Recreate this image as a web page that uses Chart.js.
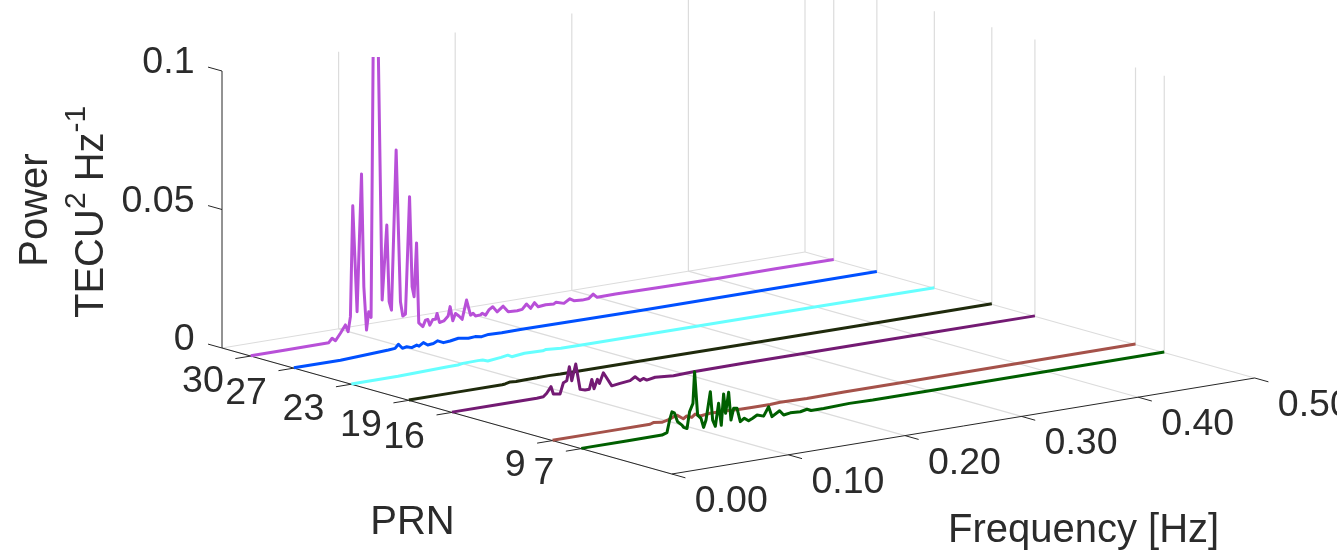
<!DOCTYPE html>
<html>
<head>
<meta charset="utf-8">
<title>Power spectra per PRN</title>
<script src="https://cdn.jsdelivr.net/npm/chart.js@4"></script>
<style>
  html, body { margin: 0; padding: 0; background: #fff; overflow: hidden; }
  canvas { display: block; }
</style>
</head>
<body>
<canvas id="waterfall" width="1337" height="555"></canvas>
<script>
// Tick labels and axis values
const freqTicks = [0, 0.1, 0.2, 0.3, 0.4, 0.5];
const prnTicks = [30, 27, 23, 19, 16, 9, 7];
const powerTicks = [0, 0.05, 0.1];
const prnLimits = [0.7, 32];
const powerTop = 0.1;

// Spectra, frequency in Hz and power in TECU^2/Hz
const freq30 = [0, 0.03, 0.0669, 0.0698, 0.0727, 0.0769, 0.0812, 0.0835, 0.0855, 0.0875, 0.0912, 0.095, 0.097, 0.0993, 0.1012, 0.1032, 0.1055, 0.1084, 0.1127, 0.1167, 0.1187, 0.1207, 0.1247, 0.1284, 0.1304, 0.1327, 0.1362, 0.1384, 0.1401, 0.1422, 0.1441, 0.1476, 0.1499, 0.1519, 0.1536, 0.1562, 0.1585, 0.1598, 0.1619, 0.1656, 0.1693, 0.171, 0.1733, 0.1756, 0.1785, 0.1813, 0.1851, 0.1885, 0.1907, 0.1928, 0.1971, 0.1985, 0.2014, 0.2042, 0.2076, 0.2113, 0.2165, 0.2208, 0.2285, 0.2328, 0.2365, 0.24, 0.2434, 0.2465, 0.2529, 0.26, 0.2619, 0.2686, 0.2737, 0.2771, 0.2843, 0.29, 0.2937, 0.2971, 0.3129, 0.35, 0.4, 0.45, 0.5];
const power30 = [0.0001, 0.0001, 0.0002, 0.0016, 0.0005, 0.0029, 0.0056, 0.003, 0.0083, 0.0482, 0.0097, 0.0591, 0.0183, 0.0025, 0.009, 0.0068, 0.13, 0.13, 0.0124, 0.0392, 0.0114, 0.0082, 0.0657, 0.0107, 0.0054, 0.006, 0.0481, 0.0154, 0.0117, 0.031, 0.002, 0.0004, 0.0026, 0.0027, 0.0005, 0.0024, 0.0023, 0.0043, 0.0009, 0.0012, 0.0027, 0.006, 0.0007, 0.0032, 0.0021, 0.0007, 0.0074, 0.0017, 0.0022, 0.0011, 0.0012, 0.0017, 0.0008, 0.0025, 0.0034, 0.0013, 0.003, 0.0007, 0.0005, 0.0007, 0.0024, 0.0006, 0.0024, 0.0007, 0.001, 0.0008, 0.0013, 0.0004, 0.0017, 0.0008, 0.0005, 0.0007, 0.002, 0.0006, 0.0007, 0.0005, 0.0003, 0.0003, 0.0002];

const freq27 = [0, 0.04, 0.0811, 0.0868, 0.0897, 0.0931, 0.0968, 0.1011, 0.1054, 0.1074, 0.1111, 0.1148, 0.1197, 0.1234, 0.1283, 0.134, 0.1411, 0.1497, 0.1555, 0.1611, 0.1669, 0.1783, 0.1955, 0.25, 0.3, 0.4, 0.5];
const power27 = [0.0001, 0.0001, 0.0009, 0.0011, 0.0024, 0.0007, 0.001, 0.0004, 0.001, 0.0005, 0.0015, 0.0004, 0.0006, 0.0013, 0.0003, 0.0005, 0.001, 0.0004, 0.0006, 0.0002, 0.0006, 0.0004, 0.0005, 0.0003, 0.0002, 0.0002, 0.0002];

const freq23 = [0, 0.04, 0.0827, 0.0913, 0.0956, 0.1085, 0.1127, 0.117, 0.1284, 0.1342, 0.1376, 0.1485, 0.1642, 0.167, 0.1797, 0.2028, 0.3, 0.4, 0.5];
const power23 = [0.0001, 0.0001, 0.0006, 0.0006, 0.0009, 0.001, 0.0009, 0.0003, 0.0008, 0.0012, 0.0004, 0.0009, 0.0007, 0.001, 0.0005, 0.0005, 0.0004, 0.0003, 0.0002];

const freq19 = [0, 0.04, 0.08, 0.0826, 0.087, 0.092, 0.1, 0.11, 0.12, 0.13, 0.15, 0.2, 0.3, 0.4, 0.5];
const power19 = [0.0001, 0.0001, 0.0001, 0.0002, 0.0006, 0.0004, 0.0005, 0.0005, 0.0006, 0.0005, 0.0005, 0.0004, 0.0003, 0.0002, 0.0002];

const freq16 = [0, 0.04, 0.0728, 0.0784, 0.0813, 0.085, 0.087, 0.0927, 0.0956, 0.0985, 0.1007, 0.1028, 0.1062, 0.1099, 0.1142, 0.1179, 0.12, 0.1219, 0.1248, 0.1265, 0.1299, 0.1371, 0.1442, 0.1528, 0.1571, 0.1614, 0.1642, 0.1671, 0.1743, 0.19, 0.2071, 0.25, 0.3, 0.4, 0.5];
const power16 = [0.0001, 0.0001, 0.0001, 0.0002, 0.0013, 0.0034, 0.0006, 0.0002, 0.0041, 0.0046, 0.0095, 0.0043, 0.0101, 0.0007, 0.0002, 0.0002, 0.0036, 0.0001, 0.0033, 0.0017, 0.0053, 0.0001, 0.0005, 0.0009, 0.002, 0.0003, 0.0009, 0.0001, 0.0006, 0.0001, 0.0003, 0.0004, 0.0004, 0.0003, 0.0002];

const freq9 = [0, 0.04, 0.0837, 0.0865, 0.0937, 0.0991, 0.1066, 0.1122, 0.1151, 0.1194, 0.1223, 0.1266, 0.1351, 0.1495, 0.1609, 0.172, 0.1866, 0.1952, 0.2181, 0.25, 0.3, 0.4, 0.5];
const power9 = [0.0001, 0.0001, 0.0001, 0.0005, 0.0001, 0.0006, 0.0018, 0.0001, 0.0009, 0.0001, 0.0011, 0.0001, 0.0005, 0.0004, 0.0002, 0.0001, 0.0001, 0.0003, 0.0001, 0.0002, 0.0002, 0.0002, 0.0002];

const freq7 = [0, 0.04, 0.0692, 0.0735, 0.0758, 0.0778, 0.0798, 0.0826, 0.0864, 0.0878, 0.0907, 0.0929, 0.0958, 0.0972, 0.0998, 0.1027, 0.1049, 0.107, 0.1107, 0.1127, 0.115, 0.1178, 0.1201, 0.1221, 0.1238, 0.1264, 0.1284, 0.1307, 0.1336, 0.1364, 0.1399, 0.1435, 0.147, 0.1508, 0.1564, 0.1607, 0.1636, 0.1701, 0.1736, 0.1793, 0.1879, 0.1936, 0.1971, 0.2079, 0.23, 0.25, 0.3, 0.4, 0.5];
const power7 = [0.0001, 0.0001, 0.0001, 0.0007, 0.0051, 0.0079, 0.0074, 0.004, 0.0025, 0.0016, 0.001, 0.0069, 0.0097, 0.021, 0.0052, 0.0038, 0.0004, 0.0029, 0.0129, 0.0025, 0.0001, 0.0082, 0.0001, 0.0113, 0.0042, 0.0116, 0.0014, 0.0055, 0.0053, 0.0003, 0.0013, 0.0001, 0.0008, 0.0017, 0.0009, 0.004, 0.0002, 0.0019, 0.0001, 0.0005, 0.0003, 0.0008, 0.0001, 0.0001, 0.0004, 0.0002, 0.0002, 0.0002, 0.0002];

const gridColor = '#dcdcdc';
const axisColor = '#262626';
const textColor = '#2b2b2b';
const fontFace = '"Liberation Sans", Arial, sans-serif';

// Fixed view of the 3D box, the floor corner at (f=0, prn=32) is the origin
function project(f, prn, power) {
    return {
        x: 222 + f * 1166 + (32 - prn) * 14.37,
        y: 348 - f * 192 + (32 - prn) * 4.026 - power * 2770
    };
}

function spectrum(prn, freqs, powers, color, order, clipTop) {
    return {
        data: freqs.map((f, i) => project(f, prn, powers[i])),
        borderColor: color,
        borderWidth: 3,
        borderJoinStyle: 'round',
        order: order,
        clip: clipTop === undefined ? false : { left: 0, right: 0, bottom: 0, top: clipTop }
    };
}

function segment(a, b, color, order, width) {
    return {
        data: [project(a[0], a[1], a[2]), project(b[0], b[1], b[2])],
        borderColor: color,
        borderWidth: width,
        order: order
    };
}

const datasets = [];

// Floor and wall grid
freqTicks.forEach(f => {
    datasets.push(segment([f, prnLimits[0], 0], [f, prnLimits[1], 0], gridColor, 100, 1.2));
    if (f > 0) datasets.push(segment([f, prnLimits[1], 0], [f, prnLimits[1], powerTop], gridColor, 100, 1.2));
});
datasets.push(segment([0, prnLimits[1], 0], [0.5, prnLimits[1], 0], gridColor, 100, 1.2));
prnTicks.forEach(p => {
    datasets.push(segment([0.5, p, 0], [0.5, p, powerTop], gridColor, 100, 1.2));
});

// Axes and their ticks
datasets.push(segment([0, prnLimits[0], 0], [0, prnLimits[1], 0], axisColor, 90, 1));
datasets.push(segment([0, prnLimits[0], 0], [0.5, prnLimits[0], 0], axisColor, 90, 1));
datasets.push(segment([0, prnLimits[1], 0], [0, prnLimits[1], powerTop], axisColor, 90, 1));
freqTicks.forEach(f => {
    datasets.push(segment([f, prnLimits[0], 0], [f, prnLimits[0] - 0.95, 0], axisColor, 90, 1));
});
prnTicks.forEach(p => {
    datasets.push(segment([0, p, 0], [-0.0132, p, 0], axisColor, 90, 1));
});
powerTicks.forEach(z => {
    datasets.push(segment([0, prnLimits[1], z], [0, prnLimits[1] + 0.97, z], axisColor, 90, 1));
});

// One spectrum per satellite, the front ones on top
datasets.push(spectrum(30, freq30, power30, '#b850d8', 7, -57));
datasets.push(spectrum(27, freq27, power27, '#0050ff', 6));
datasets.push(spectrum(23, freq23, power23, '#66ffff', 5));
datasets.push(spectrum(19, freq19, power19, '#1f2a0c', 4));
datasets.push(spectrum(16, freq16, power16, '#731a73', 3));
datasets.push(spectrum(9, freq9, power9, '#a5524a', 2));
datasets.push(spectrum(7, freq7, power7, '#005f00', 1));

// Tick labels and titles are drawn as text at the projected tick positions
const labelPlugin = {
    id: 'boxLabels',
    afterDraw(chart) {
        const ctx = chart.ctx;
        const xs = chart.scales.x;
        const ys = chart.scales.y;
        const at = (f, p, z) => {
            const q = project(f, p, z);
            return { x: xs.getPixelForValue(q.x), y: ys.getPixelForValue(q.y) };
        };
        ctx.save();
        ctx.fillStyle = textColor;
        ctx.textBaseline = 'alphabetic';
        ctx.font = '37.5px ' + fontFace;

        ctx.textAlign = 'center';
        freqTicks.forEach(f => {
            const q = at(f, prnLimits[0], 0);
            ctx.fillText(f.toFixed(2), q.x + 59.5, q.y + 38);
        });
        ctx.textAlign = 'right';
        prnTicks.forEach(p => {
            const q = at(0, p, 0);
            ctx.fillText(String(p), q.x - 27, q.y + 35.5);
        });
        powerTicks.forEach(z => {
            const q = at(0, prnLimits[1], z);
            ctx.fillText(String(z), q.x - 27.5, q.y + 2);
        });

        ctx.font = '40px ' + fontFace;
        ctx.textAlign = 'center';
        ctx.fillText('PRN', 412.5, 534);
        ctx.textAlign = 'left';
        ctx.fillText('Frequency [Hz]', 948, 542);

        // Rotated power title, the second line carries superscripts
        ctx.save();
        ctx.translate(47, 210);
        ctx.rotate(-Math.PI / 2);
        ctx.textAlign = 'center';
        ctx.fillText('Power', 0, 0);
        ctx.restore();

        const parts = [['TECU', false], ['2', true], [' Hz', false], ['-1', true]];
        const fontOf = sup => (sup ? '30px ' : '40px ') + fontFace;
        ctx.save();
        ctx.translate(103, 318);
        ctx.rotate(-Math.PI / 2);
        ctx.textAlign = 'left';
        let pos = 0;
        parts.forEach(([t, sup]) => {
            ctx.font = fontOf(sup);
            ctx.fillText(t, pos, sup ? -18 : 0);
            pos += ctx.measureText(t).width;
        });
        ctx.restore();
        ctx.restore();
    }
};

new Chart(document.getElementById('waterfall').getContext('2d'), {
    type: 'scatter',
    data: { datasets: datasets },
    plugins: [labelPlugin],
    options: {
        responsive: false,
        animation: false,
        showLine: true,
        layout: { padding: 0 },
        elements: { point: { radius: 0 }, line: { tension: 0 } },
        plugins: { legend: { display: false }, tooltip: { enabled: false } },
        scales: {
            x: { type: 'linear', display: false, min: 0, max: 1337 },
            y: { type: 'linear', display: false, min: 0, max: 555, reverse: true }
        }
    }
});
</script>
</body>
</html>
